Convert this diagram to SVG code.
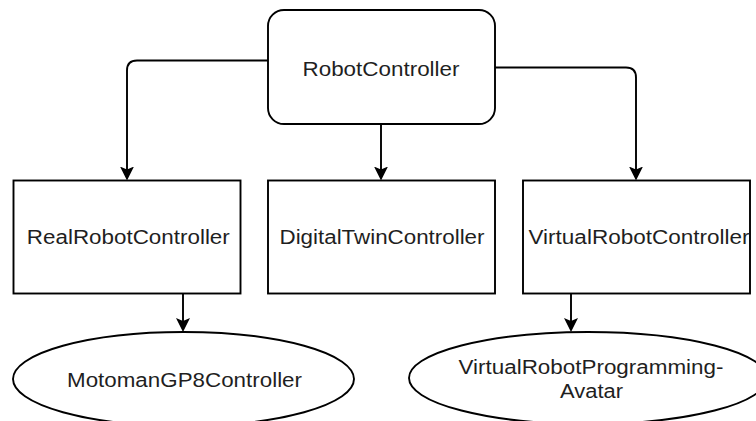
<svg xmlns="http://www.w3.org/2000/svg" width="756" height="421" viewBox="0 0 756 421">
  <style>
    .shape { fill: #ffffff; stroke: #000000; stroke-width: 1.9; }
    .edge { fill: none; stroke: #000000; stroke-width: 1.9; }
    .label { font-family: "Liberation Sans", Arial, sans-serif; font-size: 20px; fill: #1f1f1f; text-anchor: middle; }
  </style>
  <defs>
    <marker id="arrow" viewBox="0 0 14 14" refX="10" refY="7" markerWidth="14" markerHeight="14" markerUnits="userSpaceOnUse" orient="auto">
      <path d="M0,0 L14,7 L0,14 L3,7 Z" fill="#000000"/>
    </marker>
  </defs>

  <rect width="756" height="421" fill="#ffffff"/>

  <!-- connectors -->
  <g id="connectors">
    <path class="edge" d="M268,60.5 H137 Q127,60.5 127,70.5 V176.5" marker-end="url(#arrow)"/>
    <path class="edge" d="M381,124 V176.5" marker-end="url(#arrow)"/>
    <path class="edge" d="M495,67.5 H626 Q636,67.5 636,77.5 V176.5" marker-end="url(#arrow)"/>
    <path class="edge" d="M183,293.5 V328" marker-end="url(#arrow)"/>
    <path class="edge" d="M571,293.5 V328" marker-end="url(#arrow)"/>
  </g>

  <!-- nodes -->
  <g id="robot-controller">
    <rect class="shape" x="268" y="10" width="227" height="114" rx="16" ry="16"/>
    <text class="label" x="381" y="76" textLength="157" lengthAdjust="spacingAndGlyphs">RobotController</text>
  </g>

  <g id="real-robot-controller">
    <rect class="shape" x="13.5" y="180.5" width="227" height="113"/>
    <text class="label" x="128.3" y="244" textLength="203" lengthAdjust="spacingAndGlyphs">RealRobotController</text>
  </g>

  <g id="digital-twin-controller">
    <rect class="shape" x="268" y="180.5" width="227" height="113"/>
    <text class="label" x="382" y="244" textLength="205" lengthAdjust="spacingAndGlyphs">DigitalTwinController</text>
  </g>

  <g id="virtual-robot-controller">
    <rect class="shape" x="523" y="180.5" width="227" height="113"/>
    <text class="label" x="639" y="244" textLength="221" lengthAdjust="spacingAndGlyphs">VirtualRobotController</text>
  </g>

  <g id="motoman-gp8-controller">
    <ellipse class="shape" cx="183.5" cy="379" rx="170.5" ry="47"/>
    <text class="label" x="184.5" y="387" textLength="235" lengthAdjust="spacingAndGlyphs">MotomanGP8Controller</text>
  </g>

  <g id="virtual-robot-programming-avatar">
    <ellipse class="shape" cx="588" cy="378" rx="179" ry="46"/>
    <text class="label" x="591" y="374" textLength="265" lengthAdjust="spacingAndGlyphs">VirtualRobotProgramming-</text>
    <text class="label" x="591.5" y="398" textLength="63" lengthAdjust="spacingAndGlyphs">Avatar</text>
  </g>
</svg>
